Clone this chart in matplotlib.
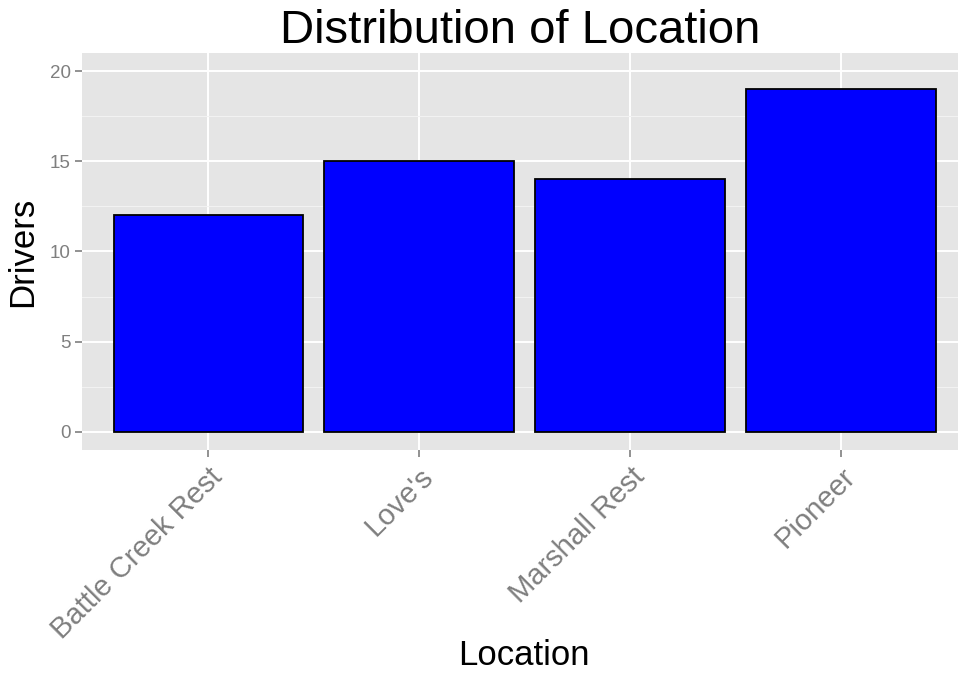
import numpy as np
from matplotlib import pyplot as plt

plt.rcParams['font.family'] = ['Liberation Sans', 'DejaVu Sans']

locations = ["Battle Creek Rest", "Love's", "Marshall Rest", "Pioneer"]
drivers = [12, 15, 14, 19]

fig = plt.figure(figsize=(9.58, 6.77), dpi=100)
ax = fig.add_axes([82/958, 227/677, 876/958, 397/677])
ax.set_facecolor('#e5e5e5')

x = np.arange(1, len(locations) + 1)
ax.bar(x, drivers, width=0.9, color='#0000ff', edgecolor='black', linewidth=1.3, zorder=3)

ax.set_xlim(0.4, 4.555)
ax.set_ylim(-1, 21)
ax.set_yticks([0, 5, 10, 15, 20])
ax.set_yticks([2.5, 7.5, 12.5, 17.5], minor=True)
ax.set_xticks(x)
ax.set_xticklabels(locations, rotation=45, ha='right', rotation_mode='anchor')

ax.grid(which='major', color='white', linewidth=1.4, zorder=0)
ax.grid(which='minor', axis='y', color='#f2f2f2', linewidth=0.8, zorder=0)
ax.set_axisbelow(True)
for s in ax.spines.values():
    s.set_visible(False)

ax.tick_params(axis='both', which='major', colors='#7f7f7f', length=5, width=1.2)
ax.tick_params(axis='y', labelsize=13.5, pad=3)
ax.tick_params(axis='x', labelsize=21, pad=4)
ax.tick_params(which='minor', length=0)

# x label placed by hand, the rotated tick labels push it off the figure otherwise
fig.text(524/958, 12/677, 'Location', fontsize=25, ha='center', va='baseline')
ax.set_ylabel('Drivers', fontsize=25, labelpad=8)
ax.set_title('Distribution of Location', fontsize=34, pad=3)

plt.savefig('out.png', dpi=100)
